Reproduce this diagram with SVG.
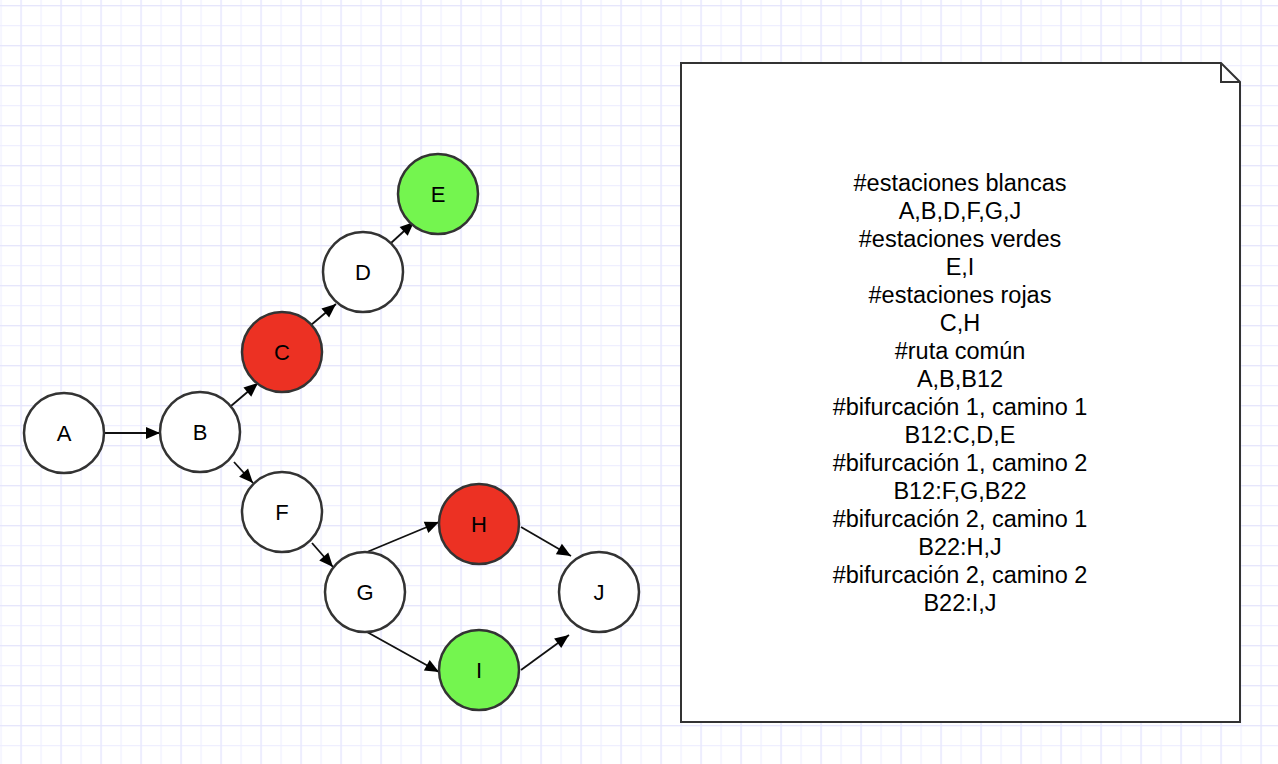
<svg xmlns="http://www.w3.org/2000/svg" width="1278" height="764" viewBox="0 0 1278 764">
<style>
.n{stroke:#333;stroke-width:2.5}
.w{fill:#fff}
.r{fill:#ec3123}
.g{fill:#74f54f}
.t{font-family:"Liberation Sans",Arial,sans-serif;font-size:22px;fill:#000;text-anchor:middle}
.e{stroke:#111;stroke-width:1.8;fill:none;marker-end:url(#ah)}
.nt{font-family:"Liberation Sans",Arial,sans-serif;font-size:23.5px;fill:#000;text-anchor:middle}
</style>
<defs>
<pattern id="gm" x="0.5" y="5" width="20" height="20" patternUnits="userSpaceOnUse">
<path d="M0.5 0V20M0 0.5H20" stroke="#efefff" stroke-width="1.3" fill="none"/>
</pattern>
<pattern id="gM" x="20.5" y="5" width="40" height="40" patternUnits="userSpaceOnUse">
<path d="M0.5 0V40M0 0.5H40" stroke="#e6e6fc" stroke-width="1.3" fill="none"/>
</pattern>
<marker id="ah" markerUnits="userSpaceOnUse" markerWidth="16" markerHeight="14" refX="15" refY="7" orient="auto">
<path d="M1 1L15 7L1 13z" fill="#000"/>
</marker>
</defs>
<rect width="1278" height="764" fill="#fff"/>
<rect width="1278" height="764" fill="url(#gm)"/>
<rect width="1278" height="764" fill="url(#gM)"/>
<g id="connectors">
<path class="e" d="M105 433H160"/>
<path class="e" d="M231 406L258 383"/>
<path class="e" d="M234 462L253 483"/>
<path class="e" d="M311 325L336 304"/>
<path class="e" d="M391 243L414 222"/>
<path class="e" d="M312 543L333 567"/>
<path class="e" d="M367 552L439 522"/>
<path class="e" d="M367 632L439 672"/>
<path class="e" d="M521 527L571 556"/>
<path class="e" d="M521 670L569 635"/>
</g>
<g id="A"><circle class="n w" cx="64" cy="433" r="40"/><text class="t" x="64" y="441">A</text></g>
<g id="B"><circle class="n w" cx="200" cy="432" r="40"/><text class="t" x="200" y="440">B</text></g>
<g id="C"><circle class="n r" cx="282" cy="352" r="40"/><text class="t" x="282" y="360">C</text></g>
<g id="D"><circle class="n w" cx="363" cy="272" r="40"/><text class="t" x="363" y="280">D</text></g>
<g id="E"><circle class="n g" cx="438" cy="194" r="40"/><text class="t" x="438" y="202">E</text></g>
<g id="F"><circle class="n w" cx="282" cy="512" r="40"/><text class="t" x="282" y="520">F</text></g>
<g id="G"><circle class="n w" cx="365" cy="592" r="40"/><text class="t" x="365" y="600">G</text></g>
<g id="H"><circle class="n r" cx="479" cy="524" r="40"/><text class="t" x="479" y="532">H</text></g>
<g id="I"><circle class="n g" cx="479" cy="670" r="40"/><text class="t" x="479" y="678">I</text></g>
<g id="J"><circle class="n w" cx="599" cy="592" r="40"/><text class="t" x="599" y="600">J</text></g>
<g id="note">
<path d="M681 63H1221L1240 82V722H681z" fill="#fff" stroke="#333" stroke-width="2"/>
<path d="M1221 63V82H1240" fill="none" stroke="#333" stroke-width="2"/>
<text class="nt" x="960" y="191">#estaciones blancas</text>
<text class="nt" x="960" y="219">A,B,D,F,G,J</text>
<text class="nt" x="960" y="247">#estaciones verdes</text>
<text class="nt" x="960" y="275">E,I</text>
<text class="nt" x="960" y="303">#estaciones rojas</text>
<text class="nt" x="960" y="331">C,H</text>
<text class="nt" x="960" y="359">#ruta común</text>
<text class="nt" x="960" y="387">A,B,B12</text>
<text class="nt" x="960" y="415">#bifurcación 1, camino 1</text>
<text class="nt" x="960" y="443">B12:C,D,E</text>
<text class="nt" x="960" y="471">#bifurcación 1, camino 2</text>
<text class="nt" x="960" y="499">B12:F,G,B22</text>
<text class="nt" x="960" y="527">#bifurcación 2, camino 1</text>
<text class="nt" x="960" y="555">B22:H,J</text>
<text class="nt" x="960" y="583">#bifurcación 2, camino 2</text>
<text class="nt" x="960" y="611">B22:I,J</text>
</g>
</svg>
